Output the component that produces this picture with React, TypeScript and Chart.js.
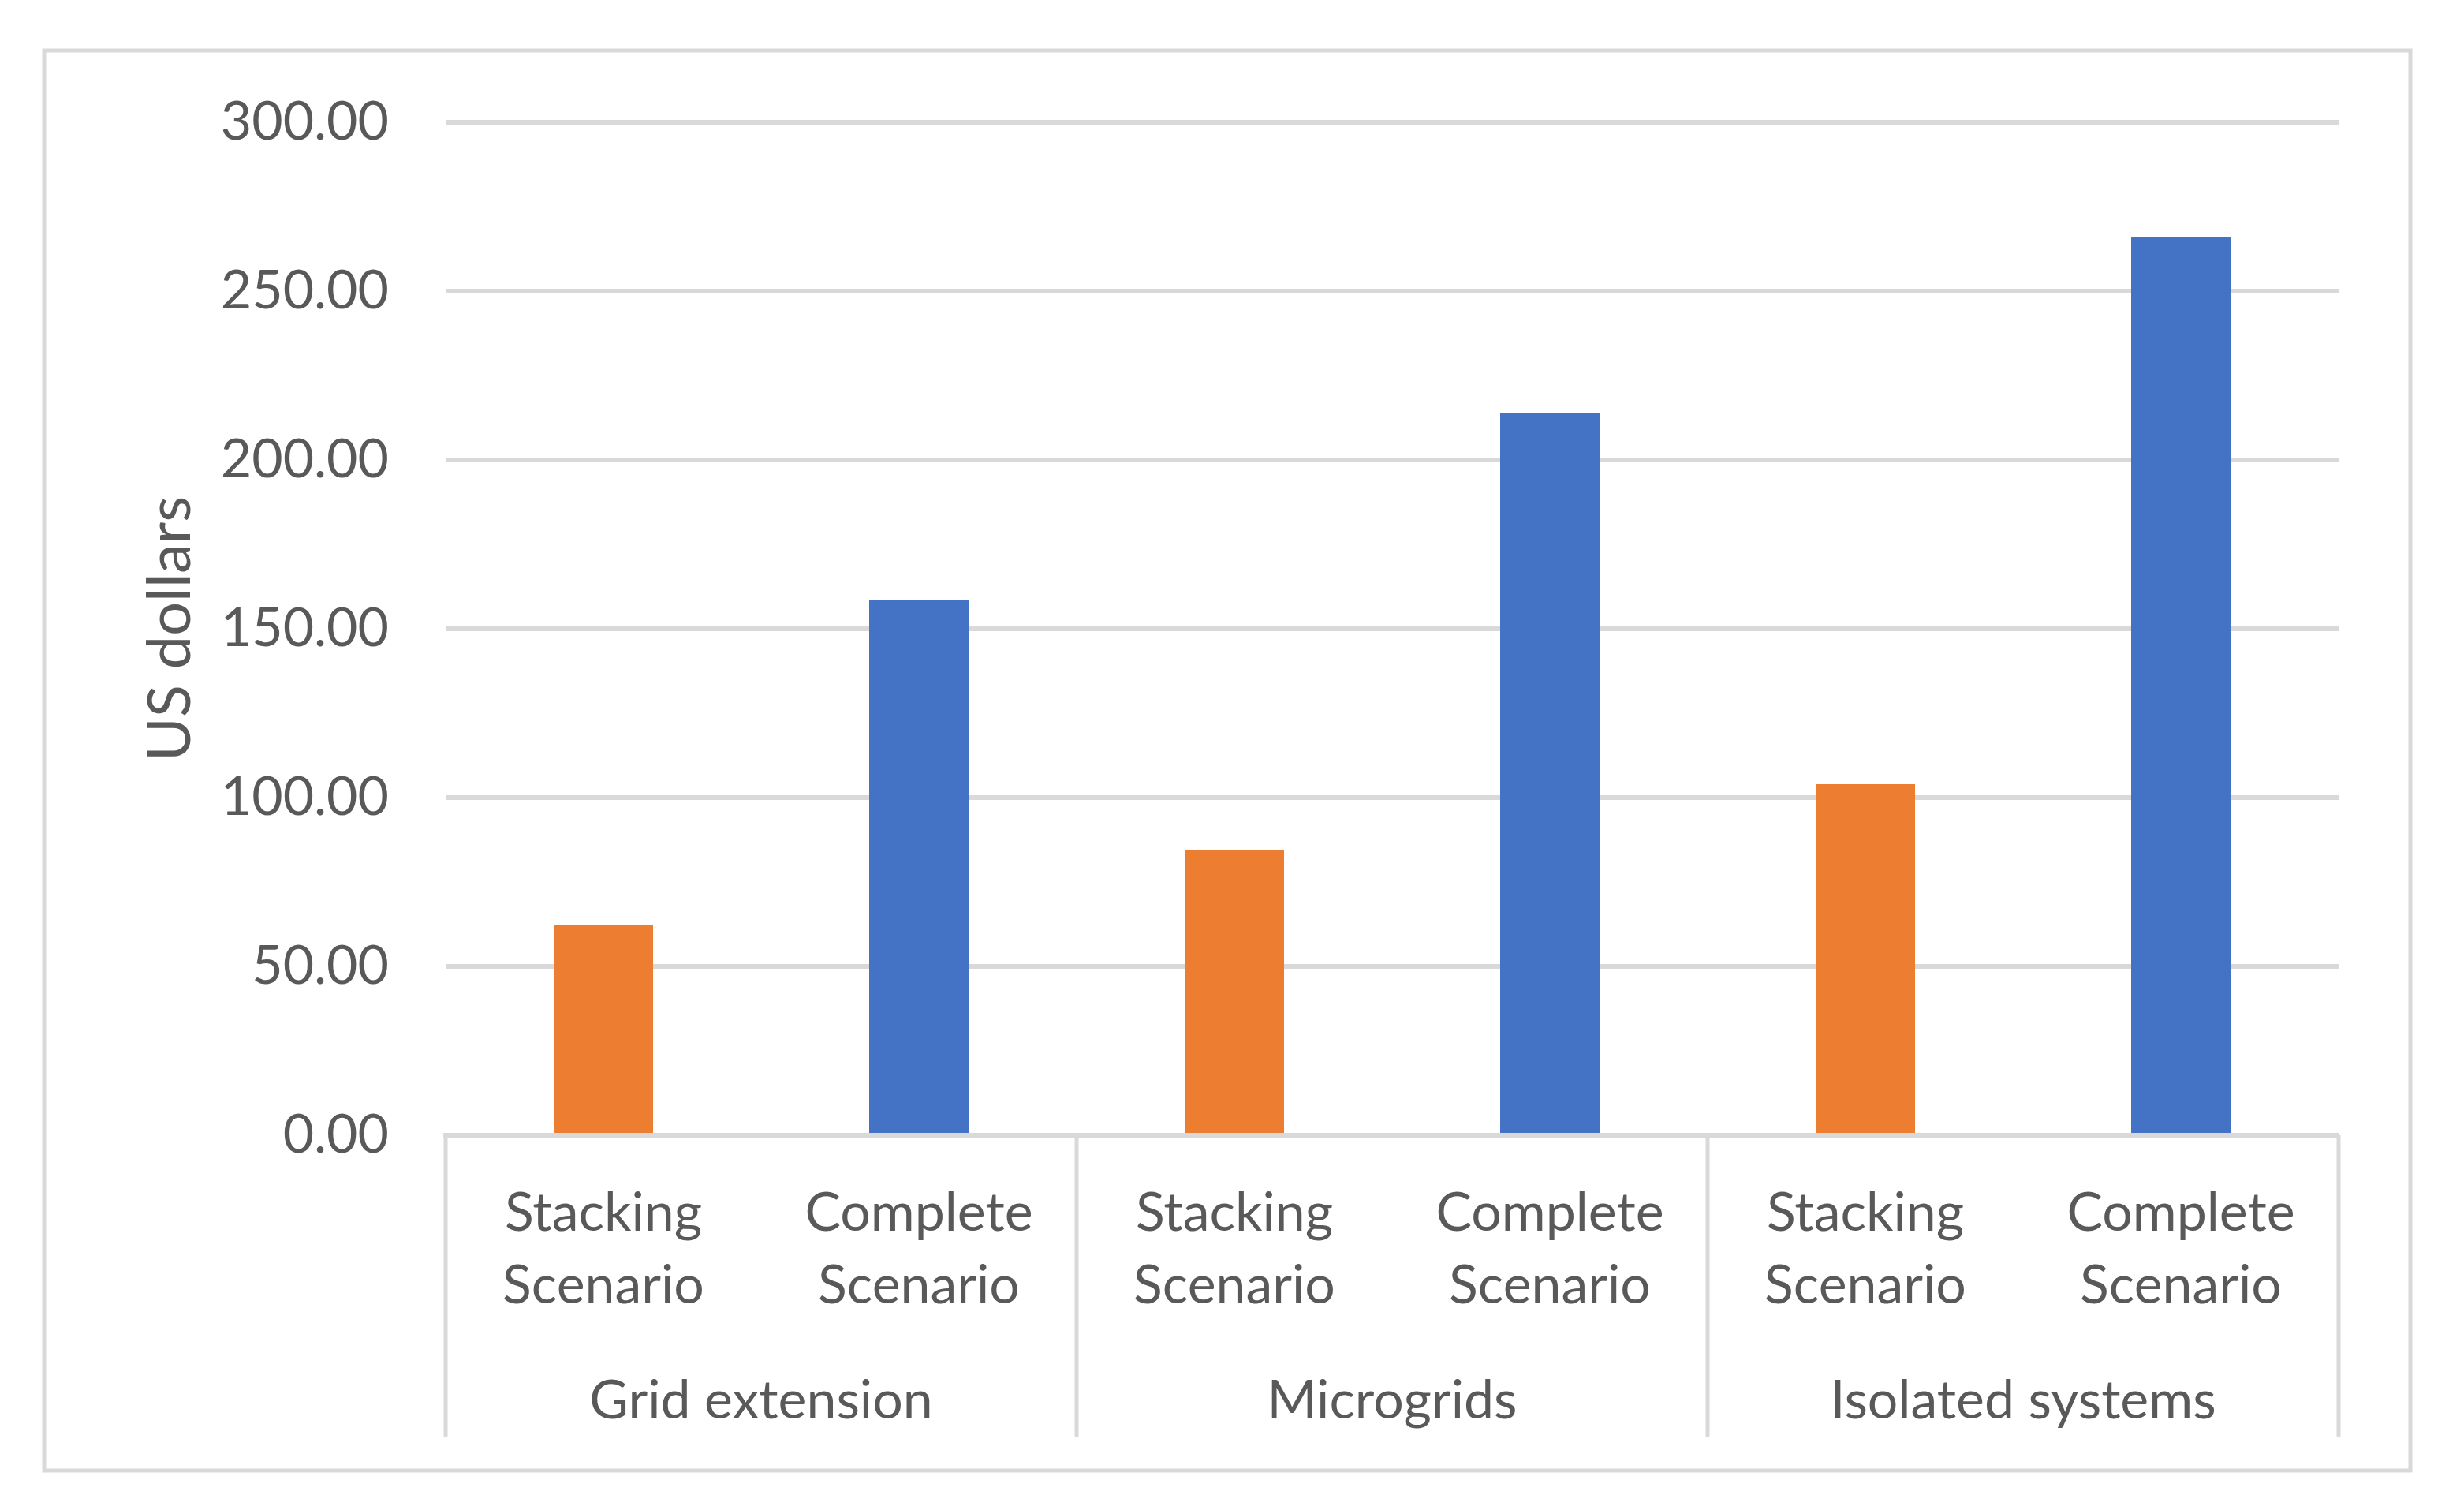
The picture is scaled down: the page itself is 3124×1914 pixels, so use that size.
import React, { useEffect, useRef } from "react";
import { Chart, registerables } from "chart.js";

Chart.register(...registerables);

const groups = ["Grid extension", "Microgrids", "Isolated systems"];
const scenarioLabels = [["Stacking", "Scenario"], ["Complete", "Scenario"]];
const stackingValues = [62.4, 84.6, 104.0];
const completeValues = [158.6, 214.0, 266.1];
const yTicks = { min: 0, max: 300, step: 50 };

const TEXT = "#595959";
const GRID = "#D9D9D9";
const ORANGE = "#ED7D31";
const BLUE = "#4472C4";
const FONT = "Lato, 'Open Sans', sans-serif";

const categoryLabels: string[][] = [];
const stackingData: (number | null)[] = [];
const completeData: (number | null)[] = [];
groups.forEach((_, gi) => {
  categoryLabels.push(scenarioLabels[0], scenarioLabels[1]);
  stackingData.push(stackingValues[gi], null);
  completeData.push(null, completeValues[gi]);
});

const framePlugin = {
  id: "frame",
  afterDraw(chart: any) {
    const { ctx } = chart;
    const x = chart.scales.x;
    const x2 = chart.scales.x2;
    ctx.save();
    ctx.strokeStyle = GRID;
    ctx.lineWidth = 5;
    for (let i = 0; i <= categoryLabels.length; i += 2) {
      const px = x.getPixelForValue(i - 0.5);
      ctx.beginPath();
      ctx.moveTo(px, x.top);
      ctx.lineTo(px, x2.bottom);
      ctx.stroke();
    }
    ctx.lineWidth = 5;
    ctx.strokeRect(56, 64, 3000, 1800);
    ctx.restore();
  },
};

export default function App() {
  const ref = useRef<HTMLCanvasElement | null>(null);
  useEffect(() => {
    if (!ref.current) return;
    const chart = new Chart(ref.current, {
      type: "bar",
      data: {
        labels: categoryLabels,
        datasets: [
          {
            label: "Stacking Scenario",
            data: stackingData,
            backgroundColor: ORANGE,
            barPercentage: 0.315,
            categoryPercentage: 1,
            grouped: false,
          },
          {
            label: "Complete Scenario",
            data: completeData,
            backgroundColor: BLUE,
            barPercentage: 0.315,
            categoryPercentage: 1,
            grouped: false,
          },
        ],
      },
      options: {
        animation: false,
        responsive: true,
        maintainAspectRatio: false,
        devicePixelRatio: 1,
        layout: { padding: { left: 100, right: 159, top: 155, bottom: 93 } },
        plugins: {
          legend: { display: false },
          tooltip: { enabled: false },
        },
        scales: {
          y: {
            min: yTicks.min,
            max: yTicks.max,
            afterFit: (s: any) => {
              s.width = 465;
            },
            ticks: {
              stepSize: yTicks.step,
              color: TEXT,
              padding: 72,
              font: { family: FONT, size: 68 },
              callback: (v: any) => Number(v).toFixed(2),
            },
            grid: { color: GRID, lineWidth: 6, drawTicks: false },
            border: { display: false },
            title: {
              display: true,
              text: "US dollars",
              color: TEXT,
              font: { family: FONT, size: 76 },
              padding: { top: 71, bottom: 0 },
            },
          },
          x: {
            type: "category",
            position: "bottom",
            weight: 0,
            offset: true,
            afterFit: (s: any) => {
              s.height = 233;
            },
            ticks: {
              color: TEXT,
              padding: 45,
              autoSkip: false,
              maxRotation: 0,
              font: { family: FONT, size: 68, lineHeight: 92 / 68 },
            },
            grid: { display: false },
            border: { display: true, color: GRID, width: 6 },
          },
          x2: {
            type: "category",
            position: "bottom",
            weight: 1,
            offset: true,
            labels: groups,
            afterFit: (s: any) => {
              s.height = 149;
            },
            ticks: {
              color: TEXT,
              padding: 50,
              autoSkip: false,
              maxRotation: 0,
              font: { family: FONT, size: 68, lineHeight: 92 / 68 },
            },
            grid: { display: false },
            border: { display: false },
          },
        },
      } as any,
      plugins: [framePlugin],
    });
    return () => chart.destroy();
  }, []);
  return (
    <div style={{ position: "absolute", left: 0, top: 0, width: 3124, height: 1914, background: "#fff" }}>
      <canvas ref={ref} />
    </div>
  );
}
